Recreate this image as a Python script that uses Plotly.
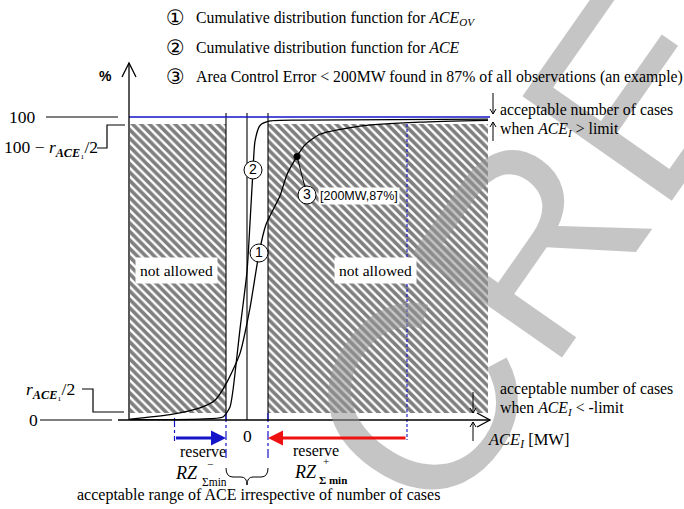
import plotly.graph_objects as go

# ---------------- data ----------------
# cumulative distribution of ACE_OV (curve 1): ACE in MW, share of observations in %
ace_ov_mw = [-468, -308, -188, -128, -80, -28, 12, 48, 76, 132, 160, 200, 232, 292, 452, 692, 964]
ace_ov_pct = [0.3, 1.8, 4.0, 6.5, 12.5, 22, 37, 55, 64.5, 74, 81, 87, 90.8, 94.3, 97.0, 98.3, 98.9]

# cumulative distribution of ACE (curve 2)
ace_mw = [-468, -188, -96, -68, -56, -28, 0, 12, 24, 32, 52, 92, 212, 964]
ace_pct = [0.1, 0.3, 1.0, 4.3, 9.9, 30, 49, 65, 82.5, 92, 97.2, 98.7, 99.0, 99.3]

# worked example: ACE < 200 MW in 87 % of all observations
example_mw = [200]
example_pct = [87]

limit_mw = 84            # acceptable range of ACE irrespective of number of cases
reserve_minus_mw = -290  # RZ- sigma min
reserve_plus_mw = 640    # RZ+ sigma min
r_half_pct = 2.3         # r_ACE1 / 2
axis_origin_mw = -472
hatch_from_mw = -468
hatch_to_mw = 964
axis_end_mw = 972

W, H = 684, 509
SERIF = "Liberation Serif"
SANS = "Liberation Sans"
BLUE = "#1414c8"


# pixel <-> data helpers for placing annotations and guides
def X(px):
    return (px - 247) * 4.0


def Y(py):
    return (420 - py) / 3.03


def PX(x):
    return x / 4.0 + 247


def PY(y):
    return 420 - y * 3.03


def path_px(points):
    return "M " + " L ".join(f"{X(a):.2f},{Y(b):.2f}" for a, b in points)


fig = go.Figure()

# hatched "not allowed" areas
for x0, x1 in [(hatch_from_mw, -limit_mw), (limit_mw, hatch_to_mw)]:
    fig.add_trace(go.Scatter(
        x=[x0, x1, x1, x0, x0],
        y=[r_half_pct, r_half_pct, 100 - r_half_pct, 100 - r_half_pct, r_half_pct],
        mode="lines", fill="toself", line=dict(width=0),
        fillcolor="rgba(255,255,255,0)",
        fillpattern=dict(shape="\\", size=6, solidity=0.6, fgcolor="#000000",
                         bgcolor="rgba(255,255,255,0)"),
        hoverinfo="skip", showlegend=False))

# vertical guide lines at -limit, 0, +limit
for xv in [-limit_mw, 0, limit_mw]:
    fig.add_trace(go.Scatter(x=[xv, xv], y=[0, Y(113)], mode="lines",
                             line=dict(color="black", width=1.1),
                             hoverinfo="skip", showlegend=False))

# blue guides for the reserves
fig.add_trace(go.Scatter(x=[reserve_minus_mw, reserve_minus_mw], y=[Y(418), Y(441)], mode="lines",
                         line=dict(color=BLUE, width=1.2, dash="dashdot"), hoverinfo="skip", showlegend=False))
for xv in [-limit_mw, limit_mw]:
    fig.add_trace(go.Scatter(x=[xv, xv], y=[r_half_pct, Y(461)], mode="lines",
                             line=dict(color=BLUE, width=1.2, dash="dashdot"), hoverinfo="skip", showlegend=False))
fig.add_trace(go.Scatter(x=[reserve_plus_mw, reserve_plus_mw], y=[100 - r_half_pct, Y(440)], mode="lines",
                         line=dict(color=BLUE, width=1.1, dash="3px,2px"), hoverinfo="skip", showlegend=False))

# 100 % line
fig.add_trace(go.Scatter(x=[axis_origin_mw, axis_end_mw], y=[100, 100], mode="lines",
                         line=dict(color=BLUE, width=1.6), hoverinfo="skip", showlegend=False))

# the two cumulative distribution curves
fig.add_trace(go.Scatter(x=ace_ov_mw, y=ace_ov_pct, mode="lines",
                         line=dict(color="black", width=1.3, shape="spline", smoothing=0.6),
                         hoverinfo="skip", showlegend=False))
fig.add_trace(go.Scatter(x=ace_mw, y=ace_pct, mode="lines",
                         line=dict(color="black", width=1.3, shape="spline", smoothing=0.6),
                         hoverinfo="skip", showlegend=False))

# leader from the example point to its marker
c3 = (X(307), Y(195))
fig.add_trace(go.Scatter(x=[example_mw[0], c3[0]], y=[example_pct[0], c3[1]], mode="lines",
                         line=dict(color="black", width=1), hoverinfo="skip", showlegend=False))
fig.add_trace(go.Scatter(x=example_mw, y=example_pct, mode="markers",
                         marker=dict(color="black", size=7), hoverinfo="skip", showlegend=False))

# numbered circles on the curves
fig.add_trace(go.Scatter(
    x=[X(259), X(253), c3[0]], y=[Y(253), Y(170), c3[1]],
    mode="markers+text", text=["1", "2", "3"], textposition="middle center",
    textfont=dict(family=SANS, size=14, color="black"),
    marker=dict(size=18, color="white", line=dict(color="black", width=1)),
    hoverinfo="skip", showlegend=False))

# axes drawn as arrows
fig.add_trace(go.Scatter(x=[axis_origin_mw, axis_origin_mw], y=[0, Y(63)], mode="lines",
                         line=dict(color="black", width=1.3), hoverinfo="skip", showlegend=False))
fig.add_trace(go.Scatter(x=[X(118), axis_end_mw], y=[0, 0], mode="lines",
                         line=dict(color="black", width=1.3), hoverinfo="skip", showlegend=False))

shapes = []


def add_path(points, color="black", width=1.2):
    shapes.append(dict(type="path", path=path_px(points), line=dict(color=color, width=width),
                       xref="x", yref="y"))


ax_px = PX(axis_origin_mw)
add_path([(ax_px - 7, 77), (ax_px, 63), (ax_px + 7, 77)], width=1.3)
add_path([(PX(axis_end_mw) - 13, 413), (PX(axis_end_mw), 420), (PX(axis_end_mw) - 13, 427)], width=1.3)

# small arrows marking the acceptable number of cases
for xa, ya, yb in [(493, 93, 114), (493, 141, 122), (473, 392, 413), (473, 441, 422)]:
    add_path([(xa, ya), (xa, yb)], width=1)
    d = 5 if yb > ya else -5
    add_path([(xa - 3, yb - d), (xa, yb), (xa + 3, yb - d)], width=1)

# left scale markers
add_path([(46, 117), (118, 117)], width=1.2)
add_path([(97, 148), (107, 148), (107, 125), (125, 125)], width=1.2)
add_path([(82, 389), (93, 389), (93, 412), (124, 412)], width=1.2)
add_path([(40, 420), (112, 420)], width=1.2)

# curly brace under the acceptable range
shapes.append(dict(
    type="path", xref="x", yref="y", line=dict(color="black", width=1),
    path=(f"M {X(226)},{Y(468)} Q {X(226)},{Y(477)} {X(233)},{Y(477)} L {X(241)},{Y(477)} "
          f"Q {X(247)},{Y(477)} {X(247)},{Y(485)} Q {X(247)},{Y(477)} {X(253)},{Y(477)} "
          f"L {X(261)},{Y(477)} Q {X(268)},{Y(477)} {X(268)},{Y(468)}")))

annotations = []


def label(px, py, text, size=16, family=SERIF, xanchor="left", bg=None, **kw):
    a = dict(x=X(px), y=Y(py), xref="x", yref="y", text=text, showarrow=False,
             font=dict(family=family, size=size, color="black"), xanchor=xanchor, yanchor="middle")
    if bg:
        a.update(bgcolor=bg, borderpad=kw.pop("borderpad", 3))
    a.update(kw)
    annotations.append(a)


# watermark lettering behind the labels
annotations.append(dict(x=X(525), y=Y(250), xref="x", yref="y", text="CRE", showarrow=False,
                        textangle=-55, font=dict(family=SANS, size=265, color="rgba(150,150,150,0.55)")))

# reserve arrows
annotations.append(dict(x=-limit_mw, y=Y(438), ax=reserve_minus_mw, ay=Y(438), xref="x", yref="y",
                        axref="x", ayref="y", text="", showarrow=True, arrowhead=2, arrowsize=1,
                        arrowwidth=3, arrowcolor=BLUE))
annotations.append(dict(x=limit_mw, y=Y(438), ax=reserve_plus_mw, ay=Y(438), xref="x", yref="y",
                        axref="x", ayref="y", text="", showarrow=True, arrowhead=2, arrowsize=1,
                        arrowwidth=3, arrowcolor="#ee1111"))

# legend lines
legend_rows = [
    "Cumulative distribution function for <i>ACE<sub>OV</sub></i>",
    "Cumulative distribution function for <i>ACE</i>",
    "Area Control Error &lt; 200MW found in 87% of all observations (an example)",
]
for i, t in enumerate(legend_rows):
    yy = 18 + i * 29.5
    label(175, yy, ["①", "②", "③"][i], size=21, family="DejaVu Sans", xanchor="center")
    label(194, yy, t, size=15.8)

label(105, 76, "<b>%</b>", size=14, family=SANS, xanchor="center")
label(7, 117, "100", size=17.5)
label(2, 148, "100 − <i>r</i><sub><i><b>ACE</b></i>₁</sub>/2", size=17.5)
label(24, 390, "<i>r</i><sub><i><b>ACE</b></i>₁</sub>/2", size=17.5)
label(27, 420, "0", size=17.5)
label(247, 436, "0", size=17.5, xanchor="center")

label(176, 270, "not allowed", size=15.5, xanchor="center", bg="white", borderpad=4)
label(375, 270, "not allowed", size=15.5, xanchor="center", bg="white", borderpad=4)
label(318, 196, "[200MW,87%]", size=12.5, family=SANS, bg="white", borderpad=1)

label(203, 451, "reserve", size=16, xanchor="center")
label(186, 473, "<i>RZ</i>", size=18, xanchor="center")
label(210, 464, "−", size=11, xanchor="center")
label(214, 482, "Σmin", size=11.5, xanchor="center")
label(316, 450, "reserve", size=16, xanchor="center")
label(305, 472, "<i>RZ</i>", size=18, xanchor="center")
label(326, 461, "+", size=11, xanchor="center")
label(333, 480, "<b>Σ min</b>", size=11, xanchor="center")
label(258, 495, "acceptable range of ACE irrespective of number of cases", size=16, xanchor="center")

label(498, 110, "acceptable number of cases", size=15.8)
label(498, 129, "when <i>ACE<sub>I</sub></i> &gt; limit", size=15.8)
label(498, 389, "acceptable number of cases", size=15.8)
label(498, 408, "when <i>ACE<sub>I</sub></i> &lt; -limit", size=15.8)
label(486, 440, "<i>ACE<sub>I</sub></i> [MW]", size=16.5)

fig.update_layout(
    width=W, height=H, margin=dict(l=0, r=0, t=0, b=0),
    paper_bgcolor="white", plot_bgcolor="white",
    xaxis=dict(range=[X(0), X(W)], visible=False, fixedrange=True),
    yaxis=dict(range=[Y(H), Y(0)], visible=False, fixedrange=True),
    shapes=shapes, annotations=annotations, showlegend=False,
)

fig.write_html("out.html")
